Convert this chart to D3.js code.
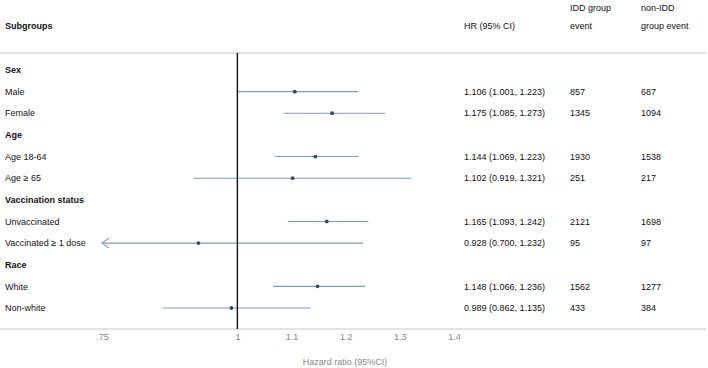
<!DOCTYPE html>
<html>
<head>
<meta charset="utf-8">
<script src="https://cdn.jsdelivr.net/npm/d3@7"></script>
<style>
  body { margin: 0; background: #fff; }
  text { font-family: "Liberation Sans", Arial, Helvetica, sans-serif; font-size: 9px; }
</style>
</head>
<body>
<svg id="chart"></svg>
<script>
// rows of the forest plot, top to bottom
const labels = ["Sex", "Male", "Female", "Age", "Age 18-64", "Age \u2265 65",
  "Vaccination status", "Unvaccinated", "Vaccinated \u2265 1 dose", "Race", "White", "Non-white"];
const isGroup = [true, false, false, true, false, false, true, false, false, true, false, false];
const hr =    [null, 1.106, 1.175, null, 1.144, 1.102, null, 1.165, 0.928, null, 1.148, 0.989];
const lower = [null, 1.001, 1.085, null, 1.069, 0.919, null, 1.093, 0.700, null, 1.066, 0.862];
const upper = [null, 1.223, 1.273, null, 1.223, 1.321, null, 1.242, 1.232, null, 1.236, 1.135];
const iddEvent =    [null, 857, 1345, null, 1930, 251, null, 2121, 95, null, 1562, 433];
const nonIddEvent = [null, 687, 1094, null, 1538, 217, null, 1698, 97, null, 1277, 384];
const tickValues = [0.75, 1, 1.1, 1.2, 1.3, 1.4];
const tickLabels = [".75", "1", "1.1", "1.2", "1.3", "1.4"];

const width = 708, height = 368;
const svg = d3.select("#chart").attr("width", width).attr("height", height);

const x = d3.scaleLinear().domain([0.75, 1.4]).range([102, 454]);
const y = d3.scalePoint().domain(d3.range(labels.length)).range([70, 308]);

const topY = 53, bottomY = 329;
const fmt = d3.format(".3f");
const lineColor = "#7f9db3";

// header
const header = svg.append("g").attr("fill", "#111");
header.append("text").attr("x", 5).attr("y", 26).attr("dy", "0.35em")
  .attr("font-weight", "bold").text("Subgroups");
header.append("text").attr("x", 464).attr("y", 26).attr("dy", "0.35em").text("HR (95% CI)");
header.append("text").attr("x", 570).attr("y", 8).attr("dy", "0.35em").text("IDD group");
header.append("text").attr("x", 570).attr("y", 26).attr("dy", "0.35em").text("event");
header.append("text").attr("x", 641).attr("y", 8).attr("dy", "0.35em").text("non-IDD");
header.append("text").attr("x", 641).attr("y", 26).attr("dy", "0.35em").text("group event");

// rules
svg.append("line").attr("x1", 0).attr("x2", 706).attr("y1", topY).attr("y2", topY)
  .attr("stroke", "#c8c8c8").attr("stroke-width", 1.2);
svg.append("line").attr("x1", 0).attr("x2", 706).attr("y1", bottomY).attr("y2", bottomY)
  .attr("stroke", "#c8c8c8").attr("stroke-width", 1.2);

// row data
const rows = labels.map((l, i) => ({
  i, label: l, group: isGroup[i], hr: hr[i], lo: lower[i], hi: upper[i],
  idd: iddEvent[i], non: nonIddEvent[i]
}));

svg.append("g").selectAll("text")
  .data(rows)
  .join("text")
  .attr("x", 5)
  .attr("y", d => y(d.i))
  .attr("dy", "0.35em")
  .attr("fill", "#111")
  .attr("font-weight", d => d.group ? "bold" : null)
  .text(d => d.label);

const est = rows.filter(d => !d.group);

// CI lines, clipped at the axis minimum
const xMin = x.domain()[0];
svg.append("g").selectAll("line")
  .data(est)
  .join("line")
  .attr("x1", d => x(Math.max(d.lo, xMin)))
  .attr("x2", d => x(d.hi))
  .attr("y1", d => y(d.i))
  .attr("y2", d => y(d.i))
  .attr("stroke", lineColor)
  .attr("stroke-width", 1.1);

// arrows for CIs that run off the left edge
svg.append("g").selectAll("path")
  .data(est.filter(d => d.lo < xMin))
  .join("path")
  .attr("d", d => {
    const ax = x(xMin), ay = y(d.i);
    return `M${ax + 7},${ay - 5}L${ax},${ay}L${ax + 7},${ay + 5}`;
  })
  .attr("fill", "none")
  .attr("stroke", lineColor)
  .attr("stroke-width", 1.1);

// reference line at HR = 1
svg.append("line")
  .attr("x1", x(1)).attr("x2", x(1))
  .attr("y1", topY).attr("y2", bottomY)
  .attr("stroke", "#111").attr("stroke-width", 1.4);

// point estimates
svg.append("g").selectAll("circle")
  .data(est)
  .join("circle")
  .attr("cx", d => x(d.hr))
  .attr("cy", d => y(d.i))
  .attr("r", 1.9)
  .attr("fill", "#2f4b5c");

// table columns
const cols = svg.append("g").attr("fill", "#111");
cols.selectAll(".hr").data(est).join("text").attr("class", "hr")
  .attr("x", 464).attr("y", d => y(d.i)).attr("dy", "0.35em")
  .text(d => `${fmt(d.hr)} (${fmt(d.lo)}, ${fmt(d.hi)})`);
cols.selectAll(".idd").data(est).join("text").attr("class", "idd")
  .attr("x", 570).attr("y", d => y(d.i)).attr("dy", "0.35em")
  .text(d => d.idd);
cols.selectAll(".non").data(est).join("text").attr("class", "non")
  .attr("x", 641).attr("y", d => y(d.i)).attr("dy", "0.35em")
  .text(d => d.non);

// x axis
const xAxis = d3.axisBottom(x)
  .tickValues(tickValues)
  .tickSize(0)
  .tickPadding(5)
  .tickFormat((d, i) => tickLabels[i]);

svg.append("g")
  .attr("transform", `translate(0,${bottomY})`)
  .call(xAxis)
  .call(g => g.select(".domain").remove())
  .call(g => g.selectAll("text")
    .attr("fill", "#888")
    .style("font-family", '"Liberation Sans", Arial, sans-serif')
    .style("font-size", "9px"));

svg.append("text")
  .attr("x", 345).attr("y", 362).attr("dy", "0.35em")
  .attr("text-anchor", "middle")
  .attr("fill", "#888")
  .text("Hazard ratio (95%CI)");
</script>
</body>
</html>
